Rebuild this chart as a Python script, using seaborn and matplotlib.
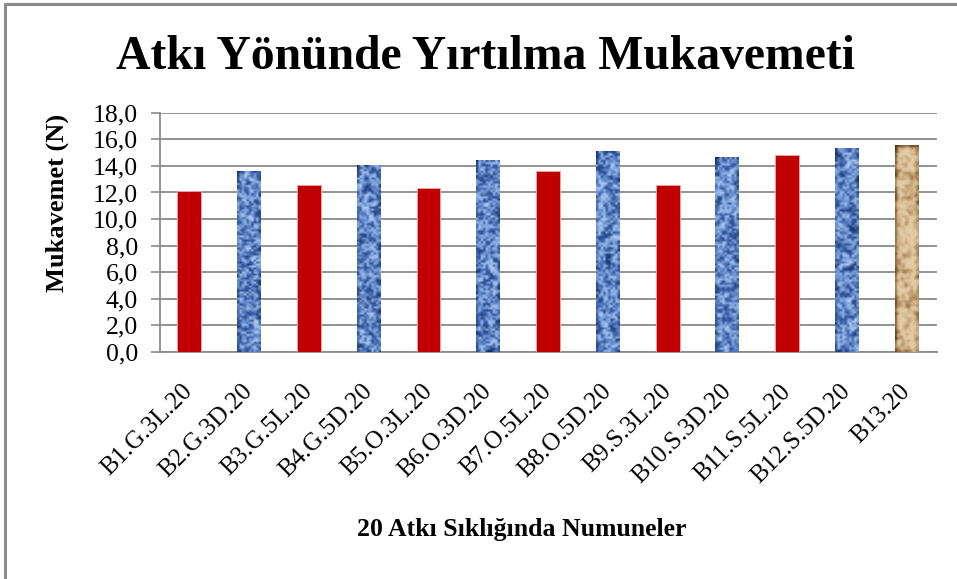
import numpy as np
import pandas as pd
import matplotlib
matplotlib.use("Agg")
import matplotlib.pyplot as plt
from matplotlib.colors import LinearSegmentedColormap
from matplotlib.lines import Line2D
from matplotlib.ticker import FuncFormatter
import seaborn as sns

# Tear strength in weft direction, 20 picks/cm samples
samples = ["B1.G.3L.20", "B2.G.3D.20", "B3.G.5L.20", "B4.G.5D.20", "B5.O.3L.20",
           "B6.O.3D.20", "B7.O.5L.20", "B8.O.5D.20", "B9.S.3L.20", "B10.S.3D.20",
           "B11.S.5L.20", "B12.S.5D.20", "B13.20"]
strength = [12.1, 13.6, 12.55, 14.0, 12.37, 14.43, 13.6, 15.1, 12.57, 14.65, 14.78, 15.33, 15.56]
fill_kind = ["red", "denim", "red", "denim", "red", "denim", "red", "denim", "red",
             "denim", "red", "denim", "kraft"]
y_ticks = [0, 2, 4, 6, 8, 10, 12, 14, 16, 18]

title = "Atkı Yönünde Yırtılma Mukavemeti"
y_label = "Mukavemet (N)"
x_label = "20 Atkı Sıklığında Numuneler"

sns.set_theme(style="white")
plt.rcParams["font.family"] = ["Liberation Serif", "DejaVu Serif"]

base_colors = {"red": "#C00000", "denim": "#6f93d0", "kraft": "#b08a5c"}

fig = plt.figure(figsize=(9.57, 5.79), dpi=100)
fig.patch.set_facecolor("white")
ax = fig.add_axes([0.1667, 0.392, 0.812, 0.4134])

df = pd.DataFrame({"sample": samples, "value": strength, "kind": fill_kind})
sns.barplot(data=df, x="sample", y="value", hue="sample",
            palette=[base_colors[k] for k in fill_kind], legend=False,
            width=0.4, saturation=1, ax=ax, zorder=3)


def hash_noise(h, w, sx, sy):
    yy, xx = np.mgrid[0:h, 0:w].astype(float)
    v = np.sin(xx * sx + yy * sy) * 43758.5453
    return v - np.floor(v)


def smooth(a, n):
    k = np.ones(n) / n
    a = np.apply_along_axis(lambda r: np.convolve(r, k, mode="same"), 1, a)
    a = np.apply_along_axis(lambda c: np.convolve(c, k, mode="same"), 0, a)
    return a


denim_cmap = LinearSegmentedColormap.from_list(
    "denim", ["#132a62", "#3a60a6", "#7aa0dc", "#b7d0f4"])
kraft_cmap = LinearSegmentedColormap.from_list(
    "kraft", ["#4a3016", "#7d5a33", "#a98457", "#c9a97e", "#e2cca6"])

# Fabric-like fills laid over the textured bars
for i, (patch, kind) in enumerate(zip(ax.patches, fill_kind)):
    x0, y0 = patch.get_x(), patch.get_y()
    w, h = patch.get_width(), patch.get_height()
    if kind == "red":
        patch.set_edgecolor("#e9a3a3")
        patch.set_linewidth(0.7)
        continue
    if kind == "denim":
        tex = hash_noise(90, 10, 12.9898 + i, 78.233)
        tex = 0.55 * tex + 0.45 * smooth(tex, 3)
        cmap = denim_cmap
    else:
        fine = hash_noise(100, 12, 12.9898, 78.233)
        coarse = smooth(hash_noise(100, 12, 4.1414, 31.7), 5)
        tex = 0.35 * smooth(fine, 2) + 0.65 * coarse
        tex = (tex - tex.min()) / (tex.max() - tex.min())
        tex = np.clip((tex - 0.5) * 1.6 + 0.55, 0, 1)
        cmap = kraft_cmap
    patch.set_edgecolor("none")
    ax.imshow(tex, cmap=cmap, extent=(x0, x0 + w, y0, y0 + h), aspect="auto",
              interpolation="bilinear", zorder=4)

ax.set_xlim(-0.5, len(samples) - 0.5)
ax.set_ylim(0, 18)
ax.set_yticks(y_ticks)
ax.yaxis.set_major_formatter(FuncFormatter(lambda v, p: f"{v:.1f}".replace(".", ",")))
ax.set_axisbelow(True)
ax.yaxis.grid(True, color="#8a8a8a", linewidth=1.3, zorder=0)
ax.xaxis.grid(False)

for side in ["top", "right"]:
    ax.spines[side].set_visible(False)
for side in ["left", "bottom"]:
    ax.spines[side].set_visible(True)
    ax.spines[side].set_color("#8a8a8a")
    ax.spines[side].set_linewidth(1.3)

ax.tick_params(axis="y", direction="out", length=6.5, width=1.2, color="#8a8a8a",
               labelsize=18.5, pad=9, left=True)
ax.tick_params(axis="x", length=0, labelsize=18, pad=26)
for lbl in ax.get_xticklabels():
    lbl.set_rotation(45)
    lbl.set_ha("right")
    lbl.set_va("center")
    lbl.set_rotation_mode("anchor")
for lbl in ax.get_yticklabels() + ax.get_xticklabels():
    lbl.set_color("black")

ax.set_xlabel("")
ax.set_ylabel("")

fig.text(0.507, 0.902, title, ha="center", va="center", fontsize=34.3,
         fontweight="bold", color="black")
fig.text(0.06, 0.649, y_label, ha="center", va="center", rotation=90,
         fontsize=19, fontweight="bold", color="black")
fig.text(0.545, 0.085, x_label, ha="center", va="center", fontsize=18.5,
         fontweight="bold", color="black")

# Chart frame, left and top edges
fig.add_artist(Line2D([0.0052, 0.0052], [-0.1, 0.9935], transform=fig.transFigure,
                      color="#8a8a8a", linewidth=2.2))
fig.add_artist(Line2D([0.0052, 1.1], [0.9935, 0.9935], transform=fig.transFigure,
                      color="#8a8a8a", linewidth=2.2))

fig.savefig("out.png", dpi=100, facecolor="white")
